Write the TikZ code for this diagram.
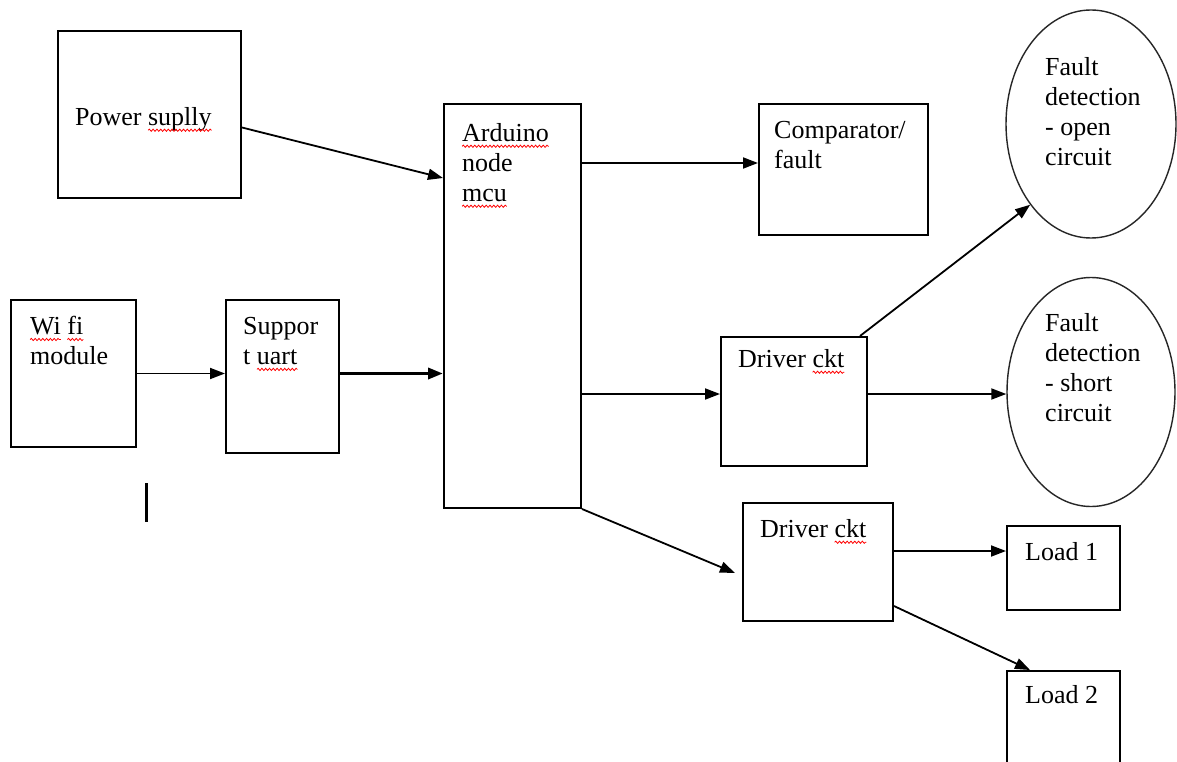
\documentclass[tikz,border=0pt]{standalone}
\usepackage{fontspec}
\setmainfont{Liberation Serif}
\usetikzlibrary{shapes.geometric,arrows.meta,calc,decorations.pathmorphing}
\newsavebox\rwbox
\newlength\rwlen
\newcommand\rwave[1]{\sbox\rwbox{#1}\setlength\rwlen{\wd\rwbox}\usebox\rwbox\hspace*{-\rwlen}\tikz[baseline=0pt]{\useasboundingbox (0pt,0pt) rectangle (\rwlen,0pt);\draw[red,line width=0.8pt,decorate,decoration={snake,amplitude=1.1pt,segment length=3.8pt}] (0pt,-5pt) -- (\rwlen,-5pt);}}
\tikzset{
  box/.style={draw=black,line width=2pt,rectangle,inner sep=0,anchor=north west},
  oval/.style={draw=black!85,line width=1.4pt,ellipse,inner sep=0},
  txt/.style={inner sep=0,anchor=north west,align=left,font=\fontsize{26}{30}\selectfont},
  conn/.style={line width=1.8pt,-{Triangle[length=15pt,width=11pt]}},
  thickconn/.style={line width=3.4pt,-{Triangle[length=15pt,width=11pt]}}
}
\begin{document}
\begin{tikzpicture}[x=1pt,y=-1pt]
\clip (0,0) rectangle (1177,762);
\fill[white] (0,0) rectangle (1177,762);
% boxes
\node[box,minimum width=183pt,minimum height=167pt] (ps) at (57,30) {};
\node[box,minimum width=137pt,minimum height=404pt] (ard) at (443,103) {};
\node[box,minimum width=169pt,minimum height=131pt] (comp) at (758,103) {};
\node[box,minimum width=125pt,minimum height=147pt] (wifi) at (10,299) {};
\node[box,minimum width=113pt,minimum height=153pt] (sup) at (225,299) {};
\node[box,minimum width=146pt,minimum height=129pt] (d1) at (720,336) {};
\node[box,minimum width=150pt,minimum height=118pt] (d2) at (742,502) {};
\node[box,minimum width=113pt,minimum height=84pt] (l1) at (1006,525) {};
\node[box,minimum width=113pt,minimum height=120pt] (l2) at (1006,670) {};
\node[oval,minimum width=170pt,minimum height=228pt] (fo) at (1091,124) {};
\node[oval,minimum width=168pt,minimum height=229pt] (fs) at (1091,392) {};
% texts
\node[txt] (tps) at (75,107) {Power \rwave{suplly}};
\node[txt] (tard) at (462,123) {\rwave{Arduino}\\node\\\rwave{mcu}};
\node[txt] (tcomp) at (774,121) {Comparator/\\fault};
\node[txt] (twifi) at (30,316) {\rwave{Wi} \rwave{fi}\\module};
\node[txt] (tsup) at (243,317) {Suppor\\t \rwave{uart}};
\node[txt] (td1) at (738,349) {Driver \rwave{ckt}};
\node[txt] (td2) at (760,519) {Driver \rwave{ckt}};
\node[txt] (tl1) at (1025,542) {Load 1};
\node[txt] (tl2) at (1025,685) {Load 2};
\node[txt] (tfo) at (1045,57) {Fault\\detection\\- open\\circuit};
\node[txt] (tfs) at (1045,313) {Fault\\detection\\- short\\circuit};
% connectors
\draw[conn] ($(ps.east)+(0,13)$) -- ($(ard.north west)+(0,75)$);
\draw[conn] (wifi.east) -- (wifi.east -| sup.west);
\draw[thickconn] (sup.east |- wifi.east) -- (wifi.east -| ard.west);
\draw[conn] (ard.east |- 0,163) -- (comp.west |- 0,163);
\draw[conn] (ard.east |- 0,394) -- (d1.west |- 0,394);
\draw[conn] (d1.east |- 0,394) -- (fs.west |- 0,394);
\draw[conn] ($(d1.north east)+(-8,0)$) -- (fo.233);
\draw[conn] (ard.south east) -- ($(d2.west)+(-7,11)$);
\draw[conn] (d2.east |- 0,551) -- (l1.west |- 0,551);
\draw[conn] ($(d2.east)+(0,44)$) -- ($(l2.north west)+(24,0)$);
% stray mark
\coordinate (bara) at (146,483);
\coordinate (barb) at (146,522);
\draw[line width=3pt] (bara) -- (barb);
\end{tikzpicture}
\end{document}
